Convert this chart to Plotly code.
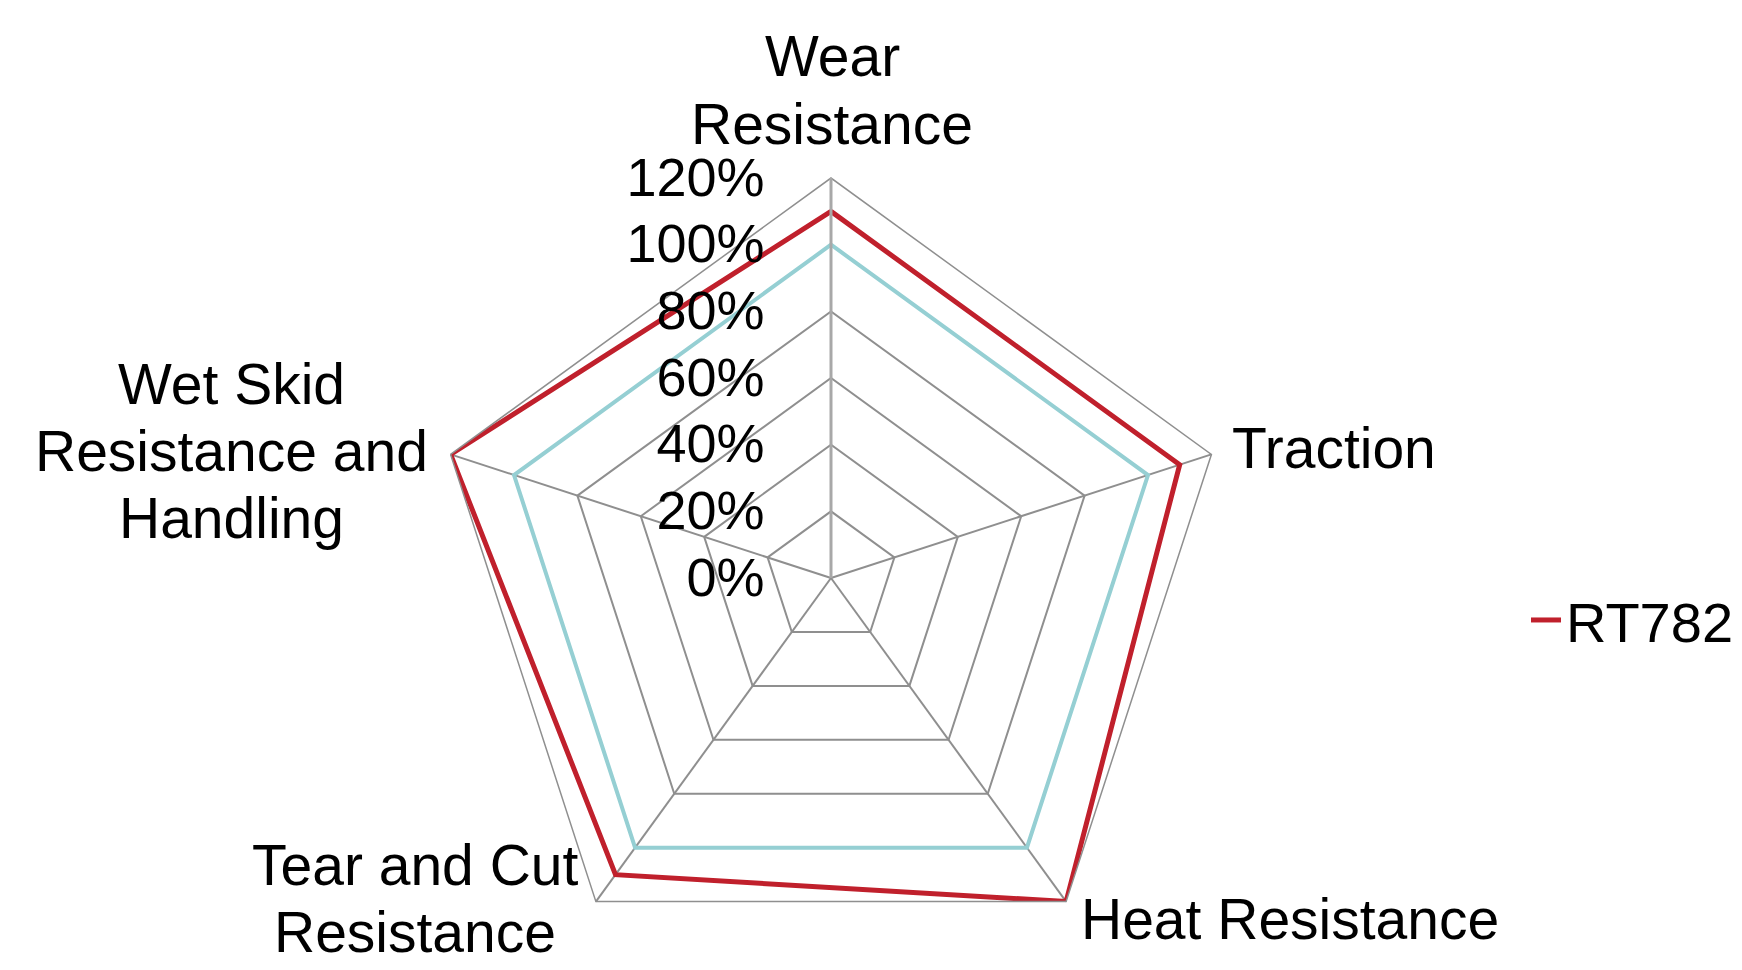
import plotly.graph_objects as go

categories = ["Wear<br>Resistance", "Traction", "Heat Resistance",
              "Tear and Cut<br>Resistance", "Wet Skid<br>Resistance and<br>Handling"]
baseline_values = [100, 100, 100, 100, 100]
rt782_values = [110, 110, 120, 110, 120]
radial_ticks = [0, 20, 40, 60, 80, 100, 120]
radial_labels = ["0%", "20%", "40%", "60%", "80%", "100%", "120%"]

FONT = "Liberation Sans, Arial, sans-serif"
GRID = "#8f8f8f"
W, H = 1742, 970

# label placement in pixels: x anchor, y of the first line centre, line spacing
label_layout = [
    dict(x=824, y=48, xanchor="center", gap=68),
    dict(x=1222, y=440, xanchor="left", gap=68),
    dict(x=1071, y=911, xanchor="left", gap=68),
    dict(x=407, y=857, xanchor="center", gap=67),
    dict(x=223, y=376, xanchor="center", gap=67),
]

fig = go.Figure()
fig.add_trace(go.Scatterpolar(
    r=baseline_values + baseline_values[:1],
    theta=categories + categories[:1],
    mode="lines", line=dict(color="#95CFD3", width=4),
    name="Baseline", showlegend=False,
))
fig.add_trace(go.Scatterpolar(
    r=rt782_values + rt782_values[:1],
    theta=categories + categories[:1],
    mode="lines", line=dict(color="#C0202C", width=5),
    name="RT782", showlegend=True,
))

annotations = []
for text, pos in zip(categories, label_layout):
    for i, line in enumerate(text.split("<br>")):
        annotations.append(dict(
            text=line, xref="paper", yref="paper",
            x=pos["x"] / W, y=1 - (pos["y"] + i * pos["gap"]) / H,
            xanchor=pos["xanchor"], yanchor="middle", align="center",
            showarrow=False, font=dict(family=FONT, size=57, color="black"),
        ))

fig.update_layout(
    width=W, height=H,
    paper_bgcolor="white", plot_bgcolor="white",
    margin=dict(l=0, r=0, t=0, b=0),
    font=dict(family=FONT, size=55, color="black"),
    polar=dict(
        domain=dict(x=[0.24282, 0.70207], y=[0.0, 0.8247]),
        bgcolor="white",
        gridshape="linear",
        radialaxis=dict(
            range=[0, 120], tickvals=radial_ticks, ticktext=radial_labels,
            angle=90, tickangle=90, side="counterclockwise",
            showgrid=True, gridcolor=GRID, gridwidth=1.5,
            showline=True, linecolor="#a8a8a8", linewidth=3,
            ticks="outside", ticklen=46, tickcolor="rgba(0,0,0,0)",
            tickfont=dict(family=FONT, size=54, color="black"),
        ),
        angularaxis=dict(
            direction="clockwise", rotation=90,
            showgrid=True, gridcolor=GRID, gridwidth=1.5,
            showline=True, linecolor=GRID, linewidth=1.5,
            ticks="", showticklabels=False,
        ),
    ),
    annotations=annotations,
    legend=dict(
        x=0.8714, y=0.369, xanchor="left", yanchor="middle",
        bgcolor="rgba(0,0,0,0)", font=dict(family=FONT, size=56),
    ),
)

fig.write_html("out.html")
